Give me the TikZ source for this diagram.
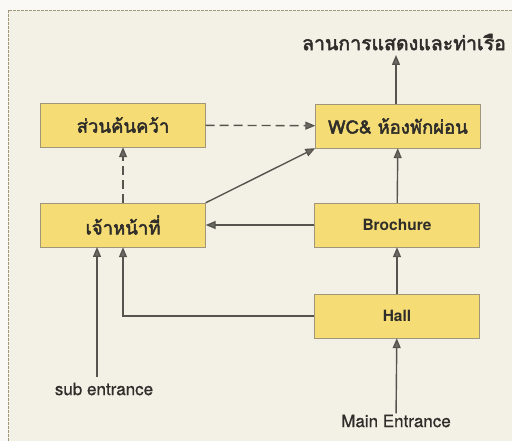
\documentclass[tikz,border=0pt]{standalone}
\usepackage{fontspec}
\setmainfont{TeX Gyre Heros}
\newfontfamily\thaifont[Script=Thai, AutoFakeBold=2.5]{Loma}
\newfontfamily\tagfont[FakeBold=0.8]{TeX Gyre Heros}
\usetikzlibrary{positioning, arrows.meta}
\definecolor{paper}{HTML}{F3F0E6}
\definecolor{boxfill}{HTML}{F6DC74}
\definecolor{boxline}{HTML}{A0967A}
\definecolor{linegray}{HTML}{55544E}
\definecolor{tipgray}{HTML}{6C6B64}
\definecolor{txt}{HTML}{2E2D2A}

\begin{document}
\begin{tikzpicture}[x=1pt, y=-1pt, >={Triangle[length=10pt, width=8pt, fill=tipgray]},
    room/.style={draw=boxline, fill=boxfill, minimum width=165pt, minimum height=44pt, inner sep=0pt, text=txt},
    thai/.style={font=\thaifont\bfseries\fontsize{18.5}{21}\selectfont},
    latin/.style={font=\bfseries\fontsize{15.5}{18}\selectfont},
    tag/.style={text=txt, inner sep=1pt},
    link/.style={->, draw=linegray, line width=1.4pt}]
  \useasboundingbox (0,0) rectangle (512,441);
  \fill [white!60!paper] (0,0) rectangle (512,441);
  \fill [paper] (8,10) rectangle (512,441);
  \draw [boxline, line width=0.8pt, dash pattern=on 3pt off 1pt] (512,10) -- (8,10) -- (8,441);

  \node [room, thai] (research) at (123, 125) {ส่วนค้นคว้า};
  \node [room, thai] (wc) at (398, 126) {WC\& ห้องพักผ่อน};
  \node [room, thai] (staff) at (123, 225) {เจ้าหน้าที่};
  \node [room, latin] (brochure) at (397, 225) {Brochure};
  \node [room, latin] (hall) at (397, 316) {Hall};

  \node [tag, font=\thaifont\bfseries\fontsize{19.5}{22}\selectfont] (stage) at (404, 42) {ลานการแสดงและท่าเรือ};
  \node [tag, font=\tagfont\fontsize{17}{20}\selectfont] (main) at (396, 421) {Main Entrance};
  \node [tag, font=\tagfont\fontsize{17}{20}\selectfont] (sub) at (104, 389) {sub entrance};

  \coordinate (stagein) at (396, 55);
  \coordinate (subout) at (97, 377);
  \coordinate (subin) at (97, 247);

  \draw [link] (wc.north -| stagein) -- (stagein);
  \draw [link, dashed, dash pattern=on 9pt off 5pt] (research) -- (wc);
  \draw [link, dashed, dash pattern=on 9pt off 5pt] (staff) -- (research);
  \draw [link] (staff.north east) -- (wc.south west);
  \draw [link] (brochure) -- (staff);
  \draw [link] (brochure) -- (wc);
  \draw [link] (hall) -- (brochure);
  \draw [link] (main) -- (hall);
  \draw [link] (hall.west) -| (staff.south);
  \draw [link] (subout) -- (subin);
\end{tikzpicture}
\end{document}
